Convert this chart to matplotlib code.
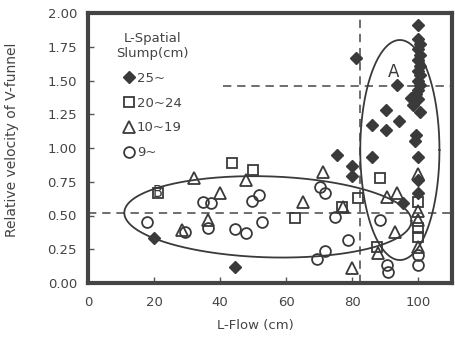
import numpy as np
import matplotlib
matplotlib.use("Agg")
import matplotlib.pyplot as plt

# ---- data ----
diamond_x = [20, 44.5, 75.5, 80, 80, 86, 81.3, 93.6, 90.2, 86.2, 94.2, 90.2, 95.5,
             100, 100, 100.5, 100, 100.5, 100, 100.5, 100, 100.5, 100, 100.5, 100,
             99.5, 100, 97.8, 98.5, 100.5, 99.5, 99, 100, 100, 100]
diamond_y = [0.33, 0.12, 0.95, 0.87, 0.79, 0.93, 1.67, 1.47, 1.28, 1.17, 1.20, 1.13, 0.59,
             1.91, 1.81, 1.77, 1.73, 1.69, 1.65, 1.61, 1.57, 1.54, 1.50, 1.47, 1.43,
             1.40, 1.36, 1.37, 1.32, 1.27, 1.10, 1.05, 0.93, 0.76, 0.67]

square_x = [21.2, 43.6, 50, 62.7, 77, 81.8, 88.5, 87.6, 100, 100, 100]
square_y = [0.67, 0.89, 0.84, 0.48, 0.56, 0.63, 0.78, 0.27, 0.60, 0.41, 0.34]

triangle_x = [32.1, 40, 47.9, 28.5, 36.4, 71.2, 65.2, 77.3, 90.6, 93.6, 93, 80, 88,
              100, 100, 100, 100]
triangle_y = [0.78, 0.67, 0.76, 0.39, 0.47, 0.82, 0.60, 0.56, 0.64, 0.67, 0.38, 0.11, 0.22,
              0.81, 0.53, 0.47, 0.27]

circle_x = [17.9, 29.4, 34.8, 37.3, 36.4, 44.5, 47.9, 49.7, 51.8, 52.7, 70.3, 71.8,
            74.8, 78.8, 71.8, 69.4, 88.5, 90.6, 90.9, 100, 100]
circle_y = [0.45, 0.38, 0.60, 0.59, 0.41, 0.40, 0.37, 0.61, 0.65, 0.45, 0.71, 0.67,
            0.49, 0.32, 0.24, 0.18, 0.47, 0.13, 0.08, 0.21, 0.13]

series_labels = ["25~", "20~24", "10~19", "9~"]
legend_title = "L-Spatial\nSlump(cm)"
x_ticks = [0, 20, 40, 60, 80, 100]
y_ticks = [0.00, 0.25, 0.50, 0.75, 1.00, 1.25, 1.50, 1.75, 2.00]

# reference lines
h_line_y = 0.52
v_line_x = 82.5
h_line2_y = 1.46
h_line2_x0 = 41

# ellipses (centre x, centre y, half-width, half-height, shear)
ellB = (54.5, 0.49, 43.5, 0.30, -0.03)
ellA = (94.5, 0.985, 12.0, 0.815, 0.0)

ink = "#3a3a3a"
txtc = "#444444"

fig = plt.figure(figsize=(4.55, 3.42), dpi=100)
ax = fig.add_axes([88/455, 59/342, 364/455, 270/342])

ax.set_xlim(0, 110.3)
ax.set_ylim(0, 2.0)

h1, = ax.plot(diamond_x, diamond_y, ls="none", marker="D", ms=6.4, mfc=ink, mec=ink, zorder=3)
h2, = ax.plot(square_x, square_y, ls="none", marker="s", ms=7.5, mfc="none", mec=ink, mew=1.3, zorder=3)
h3, = ax.plot(triangle_x, triangle_y, ls="none", marker="^", ms=8.0, mfc="none", mec=ink, mew=1.3, zorder=3)
h4, = ax.plot(circle_x, circle_y, ls="none", marker="o", ms=7.8, mfc="none", mec=ink, mew=1.3, zorder=3)

# dashed reference lines
dash = dict(color="#555555", lw=1.2, ls=(0, (5, 3.5)), zorder=2)
ax.axhline(h_line_y, **dash)
ax.axvline(v_line_x, **dash)
ax.plot([h_line2_x0, 110.3], [h_line2_y, h_line2_y], **dash)

# ellipses
t = np.linspace(0, 2*np.pi, 400)
for cx, cy, a, b, s in (ellB, ellA):
    ax.plot(cx + a*np.cos(t), cy + b*np.sin(t) + s*np.cos(t), color=ink, lw=1.3, zorder=2)

ax.text(92.7, 1.56, "A", fontsize=12, color=ink, ha="center", va="center")
ax.text(21.2, 0.67, "B", fontsize=10.5, color=ink, ha="center", va="center")

# axes styling
for sp in ax.spines.values():
    sp.set_linewidth(3.0)
    sp.set_color("#444444")
ax.set_xticks(x_ticks)
ax.set_yticks(y_ticks)
ax.set_yticklabels([f"{v:.2f}" for v in y_ticks])
ax.tick_params(direction="in", length=4, width=1, colors="#555555", labelsize=9.5,
               labelcolor=txtc)
ax.tick_params(axis="y", pad=8)
ax.tick_params(axis="x", pad=9)

ax.set_xlabel("L-Flow (cm)", fontsize=9.5, color=txtc)
ax.xaxis.set_label_coords(0.46, -0.135)
ax.set_ylabel("Relative velocity of V-funnel", fontsize=10, color=txtc)
ax.yaxis.set_label_coords(-0.19, 0.53)

leg = ax.legend([h1, h2, h3, h4], series_labels, title=legend_title,
                loc="upper left", bbox_to_anchor=(0.062, 0.95), frameon=False,
                fontsize=9.5, title_fontsize=9.5, handletextpad=0.1, labelspacing=0.9,
                handlelength=1.0, borderaxespad=0)
leg.get_title().set_multialignment("center")
leg.get_title().set_color(txtc)
for txt in leg.get_texts():
    txt.set_color(txtc)

fig.savefig("out.png", dpi=100)
